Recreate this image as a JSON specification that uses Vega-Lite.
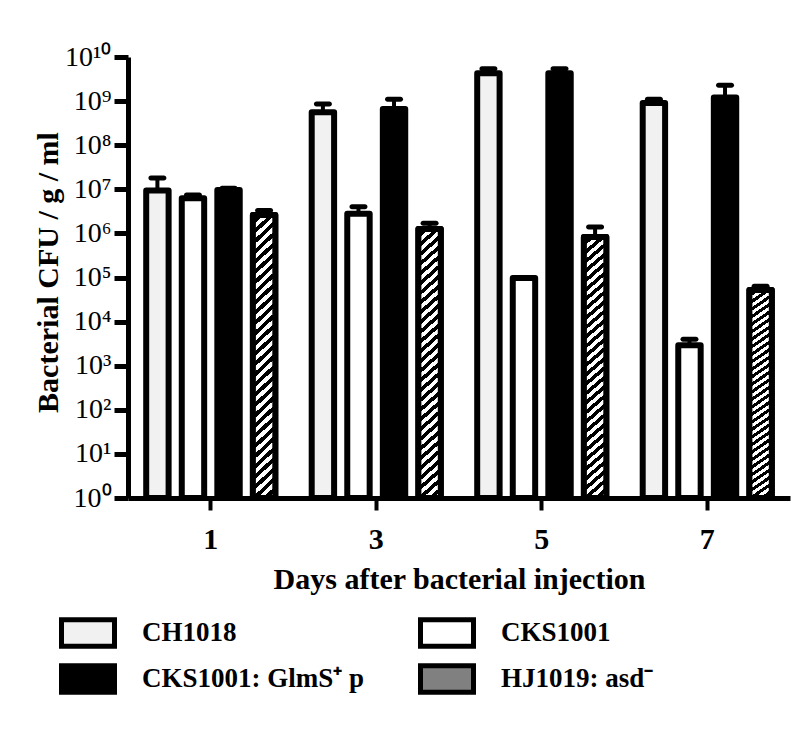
{
  "$schema": "https://vega.github.io/schema/vega-lite/v6.json",
  "width": 662,
  "height": 441,
  "autosize": {"type": "none"},
  "padding": {"left": 128, "top": 57, "right": 21, "bottom": 232},
  "config": {
    "view": {"stroke": null},
    "font": "Liberation Serif",
    "axis": {"grid": false, "domainColor": "black", "tickColor": "black", "labelColor": "black", "titleColor": "black"},
    "legend": {"gridAlign": "none"}
  },
  "data": {
    "values": [
      {"day": "1", "series": "CH1018", "value": 9.4e6, "upper": 1.8e7},
      {"day": "1", "series": "CKS1001", "value": 6.3e6, "upper": 7.4e6},
      {"day": "1", "series": "CKS1001: GlmS⁺ p", "value": 9.6e6, "upper": 1.05e7},
      {"day": "1", "series": "HJ1019: asd⁻", "value": 2.6e6, "upper": 3.3e6},
      {"day": "3", "series": "CH1018", "value": 5.6e8, "upper": 8.6e8},
      {"day": "3", "series": "CKS1001", "value": 2.8e6, "upper": 4.0e6},
      {"day": "3", "series": "CKS1001: GlmS⁺ p", "value": 6.6e8, "upper": 1.1e9},
      {"day": "3", "series": "HJ1019: asd⁻", "value": 1.26e6, "upper": 1.7e6},
      {"day": "5", "series": "CH1018", "value": 4.3e9, "upper": 5.4e9},
      {"day": "5", "series": "CKS1001", "value": 9.7e4, "upper": null},
      {"day": "5", "series": "CKS1001: GlmS⁺ p", "value": 4.3e9, "upper": 5.4e9},
      {"day": "5", "series": "HJ1019: asd⁻", "value": 8.3e5, "upper": 1.4e6},
      {"day": "7", "series": "CH1018", "value": 9.1e8, "upper": 1.1e9},
      {"day": "7", "series": "CKS1001", "value": 2.9e3, "upper": 4.0e3},
      {"day": "7", "series": "CKS1001: GlmS⁺ p", "value": 1.2e9, "upper": 2.3e9},
      {"day": "7", "series": "HJ1019: asd⁻", "value": 5.2e4, "upper": 6.3e4}
    ]
  },
  "encoding": {
    "x": {
      "field": "day",
      "type": "ordinal",
      "scale": {"paddingInner": 0.22, "paddingOuter": 0.11},
      "axis": {
        "title": "Days after bacterial injection",
        "labelAngle": 0,
        "labelFontSize": 30,
        "labelFontWeight": "bold",
        "labelPadding": 14,
        "domainWidth": 5,
        "tickWidth": 4,
        "tickSize": 12,
        "titleFontSize": 30,
        "titleFontWeight": "bold",
        "titleBaseline": "alphabetic",
        "titleY": 90
      }
    },
    "xOffset": {
      "field": "series",
      "type": "nominal",
      "sort": ["CH1018", "CKS1001", "CKS1001: GlmS⁺ p", "HJ1019: asd⁻"],
      "scale": {"paddingInner": 0.37, "paddingOuter": 0}
    },
    "y": {
      "field": "value",
      "type": "quantitative",
      "stack": null,
      "scale": {"type": "log", "domain": [1, 1e10], "nice": false},
      "axis": {
        "title": "Bacterial CFU / g / ml",
        "values": [1, 10, 100, 1000, 10000, 100000, 1000000, 10000000, 100000000, 1000000000, 10000000000],
        "labelExpr": "'10' + (round(log(datum.value)/LN10) == 10 ? '¹⁰' : substring('⁰¹²³⁴⁵⁶⁷⁸⁹', round(log(datum.value)/LN10), round(log(datum.value)/LN10) + 1))",
        "labelFontSize": 28,
        "labelPadding": 3,
        "domainWidth": 5,
        "tickWidth": 5,
        "tickSize": 14,
        "titleFontSize": 30,
        "titleFontWeight": "bold",
        "titleAngle": -90,
        "titleBaseline": "middle",
        "titleAlign": "center",
        "titleX": -80,
        "titleY": 215
      }
    }
  },
  "layer": [
    {
      "mark": {"type": "bar", "stroke": "black", "strokeWidth": 6, "strokeJoin": "round"},
      "encoding": {
        "y2": {"datum": 1},
        "fill": {
          "field": "series",
          "type": "nominal",
          "scale": {
            "domain": ["CH1018", "CKS1001", "CKS1001: GlmS⁺ p", "HJ1019: asd⁻"],
            "range": ["#f1f1f1", "#ffffff", "#000000", "#808080"]
          },
          "legend": {
            "title": null,
            "orient": "none",
            "legendX": -69,
            "legendY": 547,
            "direction": "horizontal",
            "columns": 2,
            "gridAlign": "none",
            "columnPadding": 45,
            "rowPadding": -7,
            "symbolType": "M-1,-0.5H1V0.5H-1Z",
            "symbolSize": 2809,
            "symbolStrokeColor": "black",
            "symbolStrokeWidth": 5,
            "symbolOpacity": 1,
            "labelFontSize": 27,
            "labelFontWeight": "bold",
            "labelColor": "black",
            "labelOffset": 25,
            "labelLimit": 400,
            "encode": {
              "symbols": {
                "update": {
                  "stroke": {"value": "black"},
                  "strokeWidth": {"value": 5},
                  "fill": [
                    {
                      "test": "datum.index === 3 || indexOf(datum.label + '', 'HJ') >= 0",
                      "value": {
                        "gradient": "linear",
                        "x1": 0, "y1": 0, "x2": 1.2, "y2": 0.59,
                        "stops": [
                          {"offset": 0, "color": "white"}, {"offset": 0.0833, "color": "white"}, {"offset": 0.0833, "color": "black"}, {"offset": 0.1667, "color": "black"},
                          {"offset": 0.1667, "color": "white"}, {"offset": 0.25, "color": "white"}, {"offset": 0.25, "color": "black"}, {"offset": 0.3333, "color": "black"},
                          {"offset": 0.3333, "color": "white"}, {"offset": 0.4167, "color": "white"}, {"offset": 0.4167, "color": "black"}, {"offset": 0.5, "color": "black"},
                          {"offset": 0.5, "color": "white"}, {"offset": 0.5833, "color": "white"}, {"offset": 0.5833, "color": "black"}, {"offset": 0.6667, "color": "black"},
                          {"offset": 0.6667, "color": "white"}, {"offset": 0.75, "color": "white"}, {"offset": 0.75, "color": "black"}, {"offset": 0.8333, "color": "black"},
                          {"offset": 0.8333, "color": "white"}, {"offset": 0.9167, "color": "white"}, {"offset": 0.9167, "color": "black"}, {"offset": 1, "color": "black"}
                        ]
                      }
                    },
                    {"signal": "scale('fill', datum.value)"}
                  ]
                }
              }
            }
          }
        }
      }
    },
    {
      "transform": [{"filter": "datum.series === 'HJ1019: asd⁻'"}],
      "mark": {
        "type": "bar",
        "stroke": "black",
        "strokeWidth": 6,
        "strokeJoin": "round",
        "fill": {
          "gradient": "linear",
          "x1": 0, "y1": 0, "x2": 0.08, "y2": 1.08,
          "stops": [
            {"offset": 0, "color": "white"}, {"offset": 0.01667, "color": "white"}, {"offset": 0.01667, "color": "black"}, {"offset": 0.03333, "color": "black"},
            {"offset": 0.03333, "color": "white"}, {"offset": 0.05, "color": "white"}, {"offset": 0.05, "color": "black"}, {"offset": 0.06667, "color": "black"},
            {"offset": 0.06667, "color": "white"}, {"offset": 0.08333, "color": "white"}, {"offset": 0.08333, "color": "black"}, {"offset": 0.1, "color": "black"},
            {"offset": 0.1, "color": "white"}, {"offset": 0.11667, "color": "white"}, {"offset": 0.11667, "color": "black"}, {"offset": 0.13333, "color": "black"},
            {"offset": 0.13333, "color": "white"}, {"offset": 0.15, "color": "white"}, {"offset": 0.15, "color": "black"}, {"offset": 0.16667, "color": "black"},
            {"offset": 0.16667, "color": "white"}, {"offset": 0.18333, "color": "white"}, {"offset": 0.18333, "color": "black"}, {"offset": 0.2, "color": "black"},
            {"offset": 0.2, "color": "white"}, {"offset": 0.21667, "color": "white"}, {"offset": 0.21667, "color": "black"}, {"offset": 0.23333, "color": "black"},
            {"offset": 0.23333, "color": "white"}, {"offset": 0.25, "color": "white"}, {"offset": 0.25, "color": "black"}, {"offset": 0.26667, "color": "black"},
            {"offset": 0.26667, "color": "white"}, {"offset": 0.28333, "color": "white"}, {"offset": 0.28333, "color": "black"}, {"offset": 0.3, "color": "black"},
            {"offset": 0.3, "color": "white"}, {"offset": 0.31667, "color": "white"}, {"offset": 0.31667, "color": "black"}, {"offset": 0.33333, "color": "black"},
            {"offset": 0.33333, "color": "white"}, {"offset": 0.35, "color": "white"}, {"offset": 0.35, "color": "black"}, {"offset": 0.36667, "color": "black"},
            {"offset": 0.36667, "color": "white"}, {"offset": 0.38333, "color": "white"}, {"offset": 0.38333, "color": "black"}, {"offset": 0.4, "color": "black"},
            {"offset": 0.4, "color": "white"}, {"offset": 0.41667, "color": "white"}, {"offset": 0.41667, "color": "black"}, {"offset": 0.43333, "color": "black"},
            {"offset": 0.43333, "color": "white"}, {"offset": 0.45, "color": "white"}, {"offset": 0.45, "color": "black"}, {"offset": 0.46667, "color": "black"},
            {"offset": 0.46667, "color": "white"}, {"offset": 0.48333, "color": "white"}, {"offset": 0.48333, "color": "black"}, {"offset": 0.5, "color": "black"},
            {"offset": 0.5, "color": "white"}, {"offset": 0.51667, "color": "white"}, {"offset": 0.51667, "color": "black"}, {"offset": 0.53333, "color": "black"},
            {"offset": 0.53333, "color": "white"}, {"offset": 0.55, "color": "white"}, {"offset": 0.55, "color": "black"}, {"offset": 0.56667, "color": "black"},
            {"offset": 0.56667, "color": "white"}, {"offset": 0.58333, "color": "white"}, {"offset": 0.58333, "color": "black"}, {"offset": 0.6, "color": "black"},
            {"offset": 0.6, "color": "white"}, {"offset": 0.61667, "color": "white"}, {"offset": 0.61667, "color": "black"}, {"offset": 0.63333, "color": "black"},
            {"offset": 0.63333, "color": "white"}, {"offset": 0.65, "color": "white"}, {"offset": 0.65, "color": "black"}, {"offset": 0.66667, "color": "black"},
            {"offset": 0.66667, "color": "white"}, {"offset": 0.68333, "color": "white"}, {"offset": 0.68333, "color": "black"}, {"offset": 0.7, "color": "black"},
            {"offset": 0.7, "color": "white"}, {"offset": 0.71667, "color": "white"}, {"offset": 0.71667, "color": "black"}, {"offset": 0.73333, "color": "black"},
            {"offset": 0.73333, "color": "white"}, {"offset": 0.75, "color": "white"}, {"offset": 0.75, "color": "black"}, {"offset": 0.76667, "color": "black"},
            {"offset": 0.76667, "color": "white"}, {"offset": 0.78333, "color": "white"}, {"offset": 0.78333, "color": "black"}, {"offset": 0.8, "color": "black"},
            {"offset": 0.8, "color": "white"}, {"offset": 0.81667, "color": "white"}, {"offset": 0.81667, "color": "black"}, {"offset": 0.83333, "color": "black"},
            {"offset": 0.83333, "color": "white"}, {"offset": 0.85, "color": "white"}, {"offset": 0.85, "color": "black"}, {"offset": 0.86667, "color": "black"},
            {"offset": 0.86667, "color": "white"}, {"offset": 0.88333, "color": "white"}, {"offset": 0.88333, "color": "black"}, {"offset": 0.9, "color": "black"},
            {"offset": 0.9, "color": "white"}, {"offset": 0.91667, "color": "white"}, {"offset": 0.91667, "color": "black"}, {"offset": 0.93333, "color": "black"},
            {"offset": 0.93333, "color": "white"}, {"offset": 0.95, "color": "white"}, {"offset": 0.95, "color": "black"}, {"offset": 0.96667, "color": "black"},
            {"offset": 0.96667, "color": "white"}, {"offset": 0.98333, "color": "white"}, {"offset": 0.98333, "color": "black"}, {"offset": 1, "color": "black"}
          ]
        }
      },
      "encoding": {
        "y2": {"datum": 1}
      }
    },
    {
      "mark": {"type": "rule", "color": "black", "strokeWidth": 4},
      "encoding": {
        "y2": {"field": "upper"}
      }
    },
    {
      "mark": {"type": "tick", "color": "black", "size": 18, "thickness": 5, "cornerRadius": 2.5, "opacity": 1},
      "encoding": {
        "y": {"field": "upper", "type": "quantitative"}
      }
    }
  ]
}
